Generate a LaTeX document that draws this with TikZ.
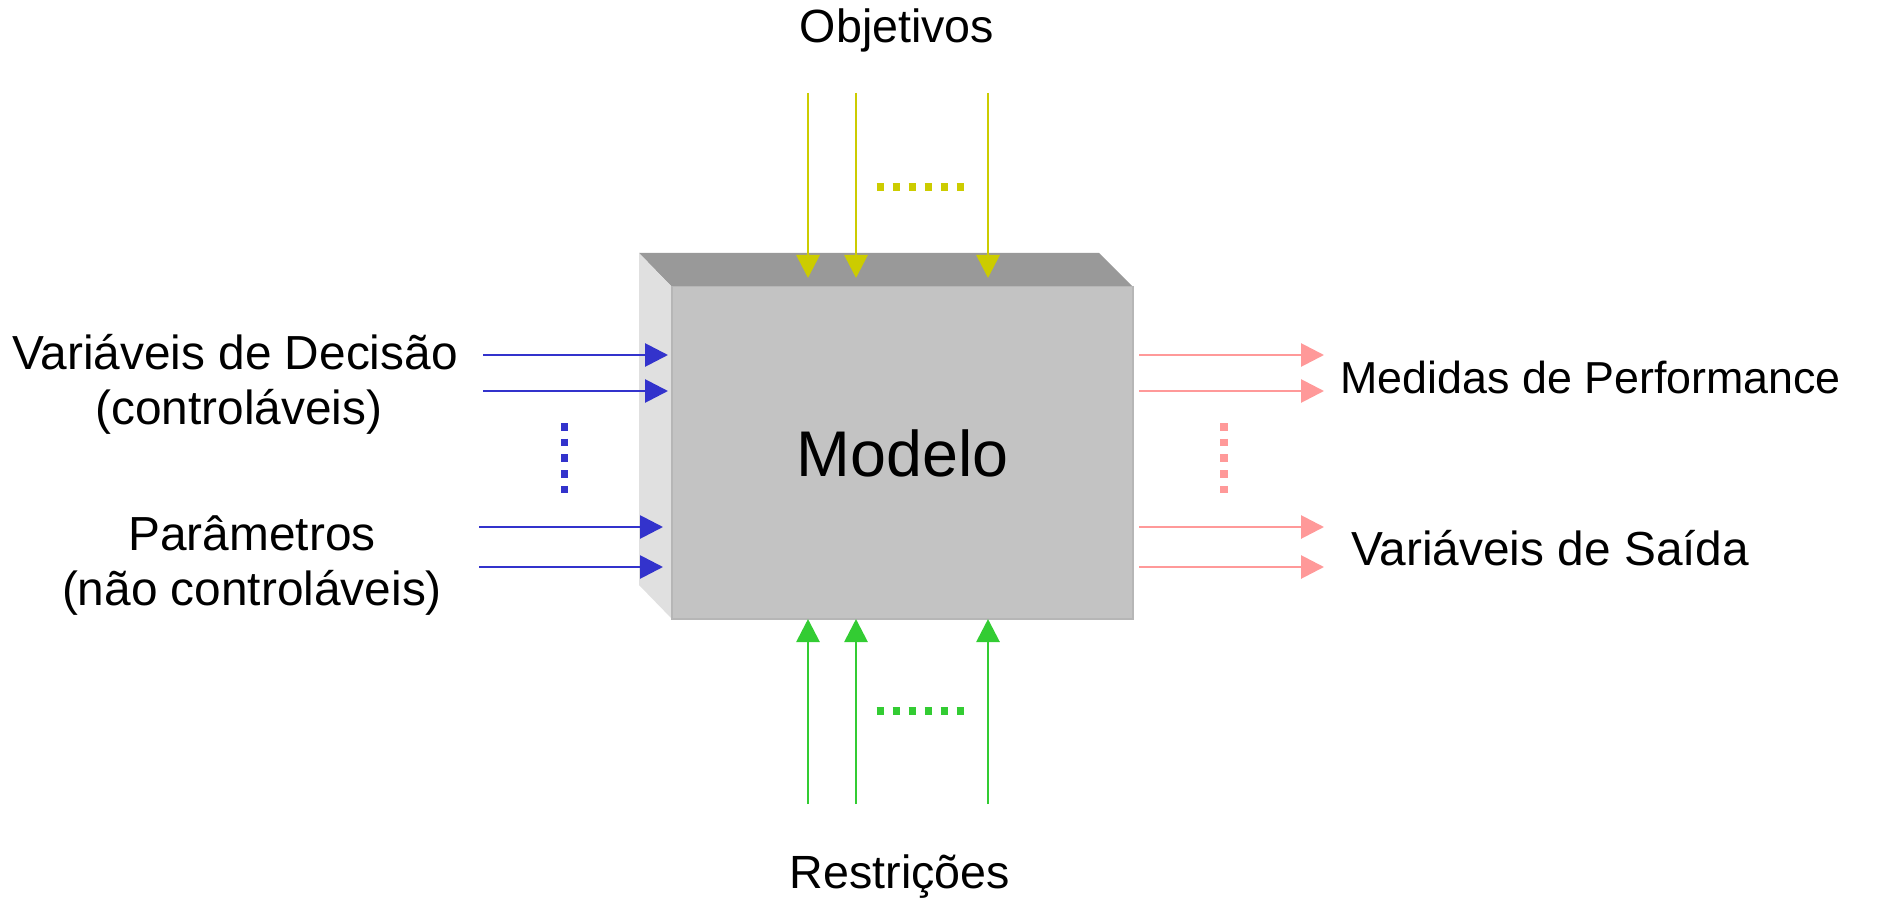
\documentclass[tikz,border=0pt]{standalone}
\usepackage{fontspec}
\setmainfont{Liberation Sans}
\usetikzlibrary{arrows.meta}
\definecolor{cblue}{RGB}{51,51,204}
\definecolor{cpink}{RGB}{255,153,153}
\definecolor{cyel}{RGB}{204,204,0}
\definecolor{cgreen}{RGB}{51,204,51}
\definecolor{ctop}{RGB}{153,153,153}
\definecolor{cleft}{RGB}{224,224,224}
\definecolor{cfront}{RGB}{195,195,195}
\definecolor{cedge}{RGB}{182,182,182}
\tikzset{
  lbl/.style={inner sep=0pt, anchor=base, font=\fontsize{23.9pt}{28pt}\selectfont},
  conn/.style={line width=1.4pt, -{Triangle[length=11.5pt,width=11.5pt]}},
  dotline/.style={line width=3.85pt, dash pattern=on 3.85pt off 4.15pt},
}
\begin{document}
\begin{tikzpicture}[x=0.5pt,y=-0.5pt]
\useasboundingbox (0,0) rectangle (1882,903);
% box faces
\fill[ctop] (639,253) -- (1099,253) -- (1133,287) -- (672,287) -- cycle;
\fill[cleft] (639,253) -- (672,287) -- (672,619) -- (639,585) -- cycle;
\node (modelo) [fill=cfront, draw=cedge, line width=1pt, inner sep=0pt,
  minimum width=230.5pt, minimum height=166pt,
  font=\fontsize{32.3pt}{38pt}\selectfont] at (902.5,453) {Modelo};
\fill[cfront] (672.5,287.5) rectangle (1132,289);

% labels
\node (obj) [lbl, font=\fontsize{23.3pt}{28pt}\selectfont] at (897,43) {Objetivos};
\node (res) [lbl, font=\fontsize{23.3pt}{28pt}\selectfont] at (900,888) {Restrições};
\node (vd1) [lbl] at (235,369) {Variáveis de Decisão};
\node (vd2) [lbl] at (239,424) {(controláveis)};
\node (pa1) [lbl] at (252,550) {Parâmetros};
\node (pa2) [lbl] at (252,605) {(não controláveis)};
\node (med) [lbl, anchor=base west, font=\fontsize{22.4pt}{27pt}\selectfont] at (1340,393) {Medidas de Performance};
\node (vs) [lbl, anchor=base west] at (1351,565) {Variáveis de Saída};

% coordinates
\foreach \n/\x in {1/808,2/856,3/988}{
  \coordinate (ys\n) at (\x,93);
  \coordinate (ye\n) at (\x,278);
  \coordinate (gs\n) at (\x,804);
  \coordinate (ge\n) at (\x,619);
}
\foreach \n/\y/\xa/\xb in {1/355/483/668,2/391/483/668,3/527/479/663,4/567/479/663}{
  \coordinate (bs\n) at (\xa,\y);
  \coordinate (be\n) at (\xb,\y);
  \coordinate (ps\n) at (1139,\y);
  \coordinate (pe\n) at (1324,\y);
}
\foreach \n in {1,2,3}{
  \draw[conn, cyel] (ys\n) -- (ye\n);
  \draw[conn, cgreen] (gs\n) -- (ge\n);
}
\foreach \n in {1,2,3,4}{
  \draw[conn, cblue] (bs\n) -- (be\n);
  \draw[conn, cpink] (ps\n) -- (pe\n);
}

% dotted ellipses
\coordinate (yd1) at (876.7,187); \coordinate (yd2) at (964.4,187);
\coordinate (gd1) at (876.7,711); \coordinate (gd2) at (964.4,711);
\coordinate (bd1) at (564.5,423); \coordinate (bd2) at (564.5,494.6);
\coordinate (pd1) at (1224.3,423); \coordinate (pd2) at (1224.3,494.6);
\draw[dotline, cyel] (yd1) -- (yd2);
\draw[dotline, cgreen] (gd1) -- (gd2);
\draw[dotline, cblue, dash pattern=on 3.75pt off 4.1pt] (bd1) -- (bd2);
\draw[dotline, cpink, dash pattern=on 3.75pt off 4.1pt] (pd1) -- (pd2);
\end{tikzpicture}
\end{document}
